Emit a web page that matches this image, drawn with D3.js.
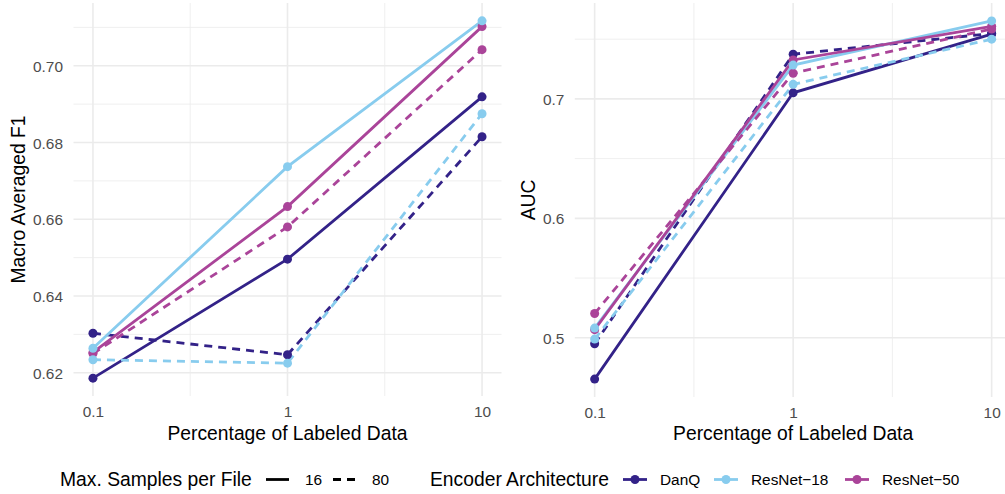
<!DOCTYPE html>
<html>
<head>
<meta charset="utf-8">
<script src="https://cdn.jsdelivr.net/npm/d3@7"></script>
<style>
	body { margin: 0; background: #fff; }
	text { font-family: "Liberation Sans", Arial, Helvetica, sans-serif; }
</style>
</head>
<body>
<div id="chartDiv"></div>
<script>
;(function() {

	// x values (percentage of labeled data)
	var pctLabeled = [0.1, 1, 10];
	var encoders = ["DanQ", "ResNet−18", "ResNet−50"];
	var encoderColors = ["#332288", "#88CCEE", "#AA4499"];
	var samplesPerFile = ["16", "80"];

	// macro averaged F1
	var f1DanQ16 = [0.6186, 0.6496, 0.6919];
	var f1DanQ80 = [0.6303, 0.6247, 0.6815];
	var f1Res18_16 = [0.6264, 0.6737, 0.7117];
	var f1Res18_80 = [0.6234, 0.6225, 0.6875];
	var f1Res50_16 = [0.6253, 0.6633, 0.7102];
	var f1Res50_80 = [0.6250, 0.6580, 0.7042];

	// AUC
	var aucDanQ16 = [0.4654, 0.7051, 0.7543];
	var aucDanQ80 = [0.4950, 0.7374, 0.7548];
	var aucRes18_16 = [0.5081, 0.7283, 0.7653];
	var aucRes18_80 = [0.4989, 0.7122, 0.7500];
	var aucRes50_16 = [0.5068, 0.7326, 0.7608];
	var aucRes50_80 = [0.5203, 0.7215, 0.7585];

	var xTickLabels = ["0.1", "1", "10"];
	var f1Ticks = [0.62, 0.64, 0.66, 0.68, 0.70];
	var aucTicks = [0.5, 0.6, 0.7];

	var width = 1005;
	var height = 494;
	var lineWidth = 2.8;
	var dotRadius = 4.5;
	var dashPattern = "8,6";
	var gridColor = "#EBEBEB";
	// dots of ResNet-18 end up on top
	var dotOrder = [0, 2, 1];

	function makeSeries(vals) {
		// order: DanQ 16, DanQ 80, ResNet-18 16, ...
		var out = [];
		encoders.forEach(function(enc, i) {
			samplesPerFile.forEach(function(s, j) {
				out.push({ encoder: enc, idx: i, color: encoderColors[i], samples: s, values: vals[i * 2 + j] });
			});
		});
		return out;
	}

	var f1Series = makeSeries([f1DanQ16, f1DanQ80, f1Res18_16, f1Res18_80, f1Res50_16, f1Res50_80]);
	var aucSeries = makeSeries([aucDanQ16, aucDanQ80, aucRes18_16, aucRes18_80, aucRes50_16, aucRes50_80]);

	var svg = d3.select("#chartDiv").append("svg")
		.attr("width", width)
		.attr("height", height);

	drawPanel({ left: 73.5, right: 501.5, top: 3, bottom: 396 }, f1Series, f1Ticks, d3.format(".2f"), "Macro Averaged F1", 24.5);
	drawPanel({ left: 574.8, right: 1011.5, top: 3, bottom: 397 }, aucSeries, aucTicks, d3.format(".1f"), "AUC", 535);
	drawLegend();

	function drawPanel(p, series, yTicks, fmt, yTitle, yTitleX) {
		var g = svg.append("g");

		// ggplot-style 5% expansion
		var logPad = (Math.log10(10) - Math.log10(0.1)) * 0.05;
		var xScale = d3.scaleLog()
			.domain([Math.pow(10, -1 - logPad), Math.pow(10, 1 + logPad)])
			.range([p.left, p.right]);

		var allVals = d3.merge(series.map(function(s) { return s.values; }));
		var yMin = d3.min(allVals), yMax = d3.max(allVals);
		var yPad = (yMax - yMin) * 0.05;
		var yScale = d3.scaleLinear()
			.domain([yMin - yPad, yMax + yPad])
			.range([p.bottom, p.top]);

		var yDom = yScale.domain();
		var step = yTicks[1] - yTicks[0];
		var yMinor = [];
		for (var k = -1; k < yTicks.length; k++) {
			var m = yTicks[0] + step * (k + 0.5);
			if (m > yDom[0] && m < yDom[1]) yMinor.push(m);
		}
		var xMinor = [Math.pow(10, -0.5), Math.pow(10, 0.5)];

		// minor grid
		g.selectAll(".minor-y").data(yMinor).enter().append("line")
			.attr("x1", p.left).attr("x2", p.right)
			.attr("y1", function(d) { return yScale(d); })
			.attr("y2", function(d) { return yScale(d); })
			.attr("stroke", gridColor).attr("stroke-width", 0.8);
		g.selectAll(".minor-x").data(xMinor).enter().append("line")
			.attr("y1", p.top).attr("y2", p.bottom)
			.attr("x1", function(d) { return xScale(d); })
			.attr("x2", function(d) { return xScale(d); })
			.attr("stroke", gridColor).attr("stroke-width", 0.8);

		// major grid
		g.selectAll(".major-y").data(yTicks).enter().append("line")
			.attr("x1", p.left).attr("x2", p.right)
			.attr("y1", function(d) { return yScale(d); })
			.attr("y2", function(d) { return yScale(d); })
			.attr("stroke", gridColor).attr("stroke-width", 1.6);
		g.selectAll(".major-x").data(pctLabeled).enter().append("line")
			.attr("y1", p.top).attr("y2", p.bottom)
			.attr("x1", function(d) { return xScale(d); })
			.attr("x2", function(d) { return xScale(d); })
			.attr("stroke", gridColor).attr("stroke-width", 1.6);

		// axes (text only, like theme_minimal)
		var xAxis = d3.axisBottom(xScale)
			.tickValues(pctLabeled)
			.tickFormat(function(d, i) { return xTickLabels[i]; })
			.tickSize(0).tickPadding(0);
		var xAxisG = g.append("g")
			.attr("transform", "translate(0," + (p.bottom + 21) + ")")
			.call(xAxis);
		xAxisG.select(".domain").remove();
		xAxisG.selectAll("text")
			.attr("dy", 0).attr("y", 0)
			.style("font-size", "15.4px").style("font-family", "Liberation Sans, Arial, sans-serif")
			.attr("fill", "#4D4D4D");

		var yAxis = d3.axisLeft(yScale)
			.tickValues(yTicks)
			.tickFormat(fmt)
			.tickSize(0).tickPadding(0);
		var yAxisG = g.append("g")
			.attr("transform", "translate(" + (p.left - 10.5) + ",0)")
			.call(yAxis);
		yAxisG.select(".domain").remove();
		yAxisG.selectAll("text")
			.attr("dy", "0.36em").attr("x", 0)
			.style("font-size", "15.4px").style("font-family", "Liberation Sans, Arial, sans-serif")
			.attr("fill", "#4D4D4D");

		// axis titles
		var plotCenterX = (xScale(0.1) + xScale(10)) / 2;
		g.append("text")
			.attr("x", plotCenterX)
			.attr("y", 440)
			.attr("text-anchor", "middle")
			.style("font-size", "19.3px")
			.attr("fill", "#000")
			.text("Percentage of Labeled Data");

		g.append("text")
			.attr("text-anchor", "middle")
			.attr("transform", "translate(" + yTitleX + "," + ((p.top + p.bottom) / 2) + ") rotate(-90)")
			.style("font-size", "19.3px")
			.attr("fill", "#000")
			.text(yTitle);

		// lines
		var line = d3.line()
			.x(function(d, i) { return xScale(pctLabeled[i]); })
			.y(function(d) { return yScale(d); });

		g.selectAll(".series-line").data(series).enter().append("path")
			.attr("class", "series-line")
			.attr("d", function(d) { return line(d.values); })
			.attr("fill", "none")
			.attr("stroke", function(d) { return d.color; })
			.attr("stroke-width", lineWidth)
			.attr("stroke-dasharray", function(d) { return d.samples === "80" ? dashPattern : null; });

		// dots
		dotOrder.forEach(function(ei) {
			series.filter(function(s) { return s.idx === ei; }).forEach(function(s) {
				g.selectAll(null).data(s.values).enter().append("circle")
					.attr("cx", function(d, i) { return xScale(pctLabeled[i]); })
					.attr("cy", function(d) { return yScale(d); })
					.attr("r", dotRadius)
					.attr("fill", s.color);
			});
		});
	}

	function drawLegend() {
		var lg = svg.append("g");
		var keyY = 479.5;
		var textY = 486;

		lg.append("text").attr("x", 60).attr("y", textY)
			.style("font-size", "19.3px").text("Max. Samples per File");

		// linetype keys
		var ltKeys = [{ x: 266, tx: 305, dash: null }, { x: 333, tx: 372, dash: dashPattern }];
		ltKeys.forEach(function(k, i) {
			lg.append("line")
				.attr("x1", k.x).attr("x2", k.x + 23)
				.attr("y1", keyY).attr("y2", keyY)
				.attr("stroke", "#000").attr("stroke-width", lineWidth)
				.attr("stroke-dasharray", k.dash);
			lg.append("text").attr("x", k.tx).attr("y", textY - 1)
				.style("font-size", "15.4px").text(samplesPerFile[i]);
		});

		lg.append("text").attr("x", 430).attr("y", textY)
			.style("font-size", "19.3px").text("Encoder Architecture");

		// colour keys
		var keyXs = [623, 714, 845];
		encoders.forEach(function(enc, i) {
			var kx = keyXs[i];
			lg.append("line")
				.attr("x1", kx).attr("x2", kx + 24)
				.attr("y1", keyY).attr("y2", keyY)
				.attr("stroke", encoderColors[i]).attr("stroke-width", lineWidth);
			lg.append("circle")
				.attr("cx", kx + 12).attr("cy", keyY)
				.attr("r", dotRadius)
				.attr("fill", encoderColors[i]);
			lg.append("text").attr("x", kx + 37).attr("y", textY - 1)
				.style("font-size", "15.4px").text(enc);
		});
	}

})();
</script>
</body>
</html>
